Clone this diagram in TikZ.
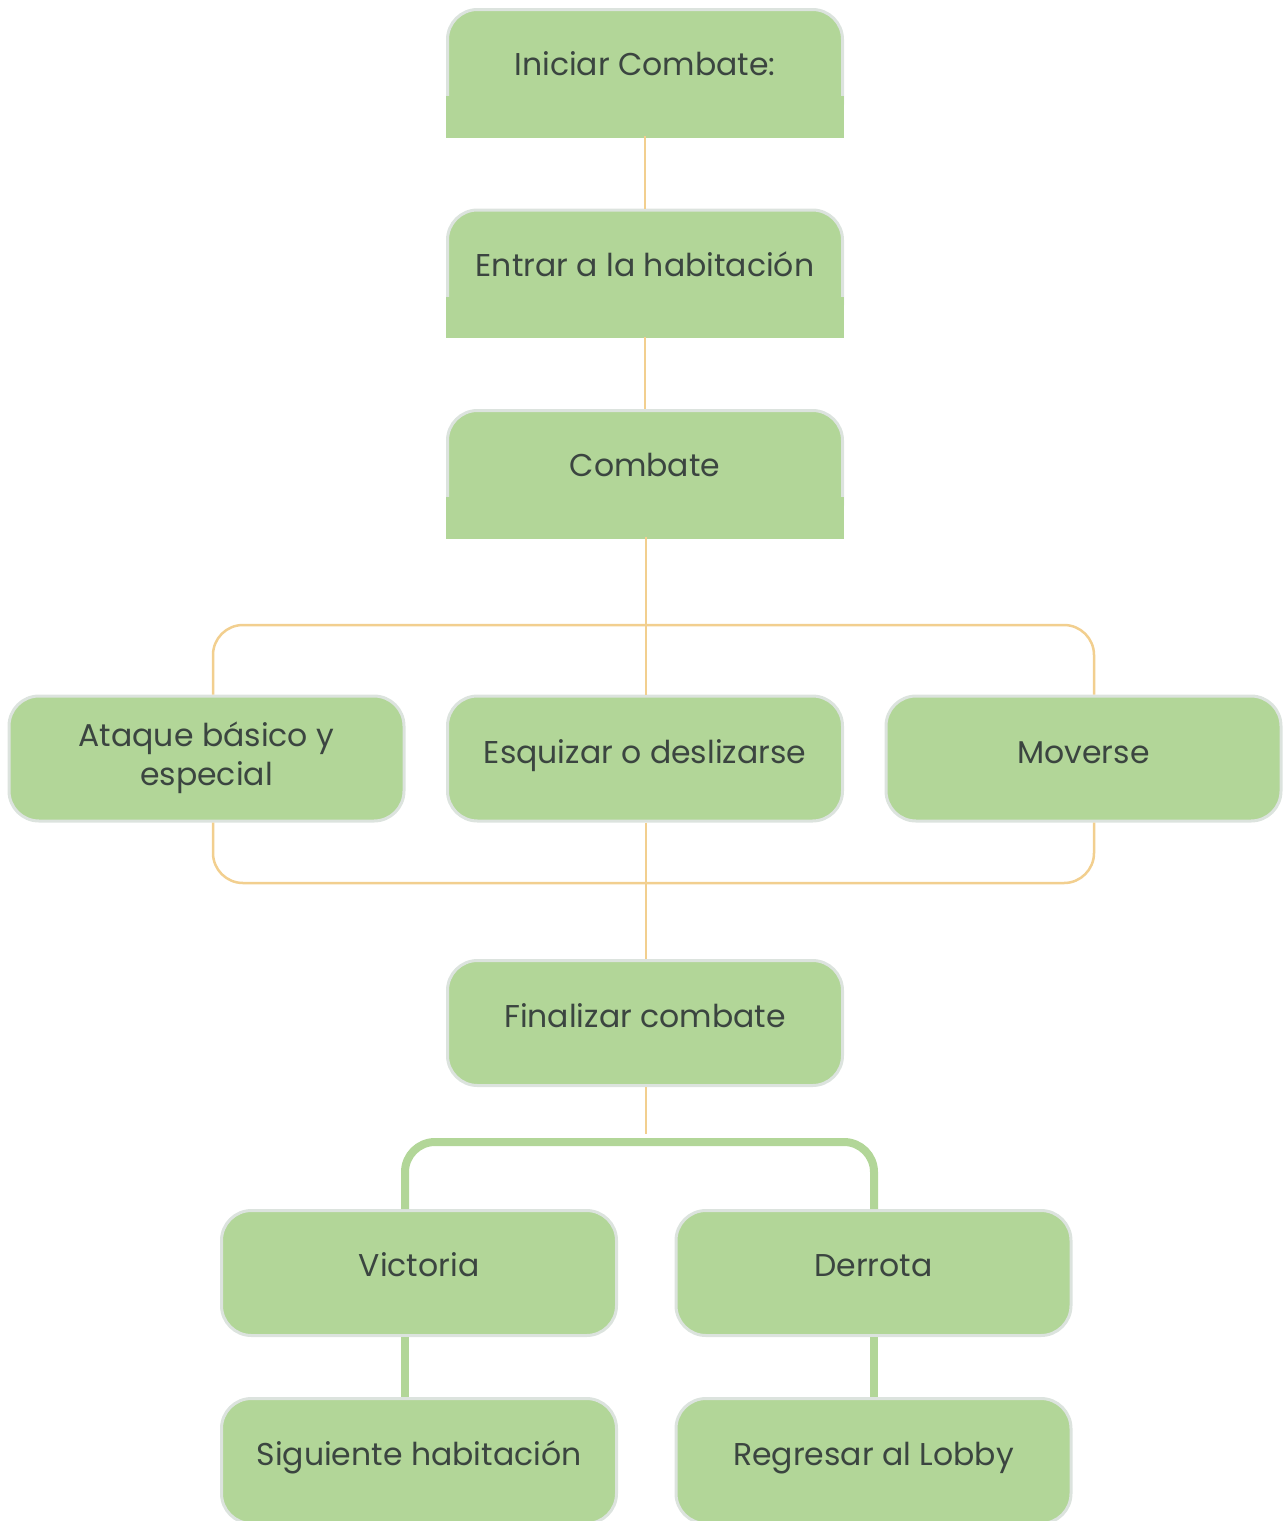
\documentclass[tikz,border=0pt]{standalone}
\usepackage{fontspec}
\setmainfont{Poppins}
\definecolor{boxgreen}{HTML}{B2D698}
\definecolor{boxedge}{HTML}{DCE3DE}
\definecolor{orng}{HTML}{F2CF8F}
\definecolor{txt}{HTML}{3B4540}
\tikzset{
  box/.style={rectangle, minimum width=395pt, minimum height=125pt, inner sep=0pt,
    fill=boxgreen, draw=boxedge, line width=3pt, rounded corners=30pt},
  lbl/.style={anchor=base, text=txt, font=\fontsize{31.5}{39}\selectfont, align=center, inner sep=0pt},
  oconn/.style={draw=orng, line width=2.5pt},
  gconn/.style={draw=boxgreen, line width=8pt},
}
\newcommand{\squarebottom}[1]{\fill[boxgreen] ([yshift=40pt]#1.south west) rectangle ([yshift=-1.5pt]#1.south east);}
\begin{document}
\begin{tikzpicture}[x=1pt,y=-1pt]
\useasboundingbox (0,0) rectangle (1287,1521);
\clip (0,0) rectangle (1287,1521);
\coordinate (jt) at (646,625);
\coordinate (jb) at (646,883);
\coordinate (jg) at (646,1134);
\coordinate (gt) at (646,1142);

% boxes
\node[box] (b1) at (645,72) {};
\squarebottom{b1}
\node[box] (b2) at (645,272.5) {};
\squarebottom{b2}
\node[box] (b3) at (645,473) {};
\squarebottom{b3}
\node[box] (b4) at (206.5,758.5) {};
\node[box] (b5) at (645,758.5) {};
\node[box] (b6) at (1083.5,758.5) {};
\node[box] (b7) at (645,1023) {};
\node[box] (b8) at (419,1273) {};
\node[box] (b9) at (873.5,1273) {};
\node[box] (b10) at (419,1461) {};
\node[box] (b11) at (873.5,1461) {};

% connectors
\draw[oconn] (b1.south) -- (b2.north);
\draw[oconn] (b2.south) -- (b3.north);
\draw[oconn] ([xshift=1pt]b3.south) -- ([xshift=1pt]b5.north);
\draw[oconn, rounded corners=30pt] ([xshift=6.5pt]b4.north) |- (jt) -| ([xshift=10.5pt]b6.north);
\draw[oconn, rounded corners=30pt] ([xshift=6.5pt]b4.south) |- (jb) -| ([xshift=10.5pt]b6.south);
\draw[oconn] ([xshift=1pt]b5.south) -- ([xshift=1pt]b7.north);
\draw[oconn] ([xshift=1pt]b7.south) -- (jg);
\draw[gconn, rounded corners=30pt] ([xshift=-14pt]b8.north) |- (gt) -| ([xshift=0.5pt]b9.north);
\draw[gconn] ([xshift=-14pt]b8.south) -- ([xshift=-14pt]b10.north);
\draw[gconn] ([xshift=0.5pt]b9.south) -- ([xshift=0.5pt]b11.north);

% labels
\node[lbl] (t1) at (645,75) {Iniciar Combate:};
\node[lbl] (t2) at (645,276) {Entrar a la habitación};
\node[lbl] (t3) at (645,476) {Combate};
\node[lbl] (t4) at (206.5,785) {Ataque básico y\\especial};
\node[lbl] (t5) at (645,763) {Esquizar o deslizarse};
\node[lbl] (t6) at (1083.5,763) {Moverse};
\node[lbl] (t7) at (645,1027) {Finalizar combate};
\node[lbl] (t8) at (419,1276) {Victoria};
\node[lbl] (t9) at (873.5,1276) {Derrota};
\node[lbl] (t10) at (419,1465) {Siguiente habitación};
\node[lbl] (t11) at (873.5,1465) {Regresar al Lobby};
\end{tikzpicture}
\end{document}
